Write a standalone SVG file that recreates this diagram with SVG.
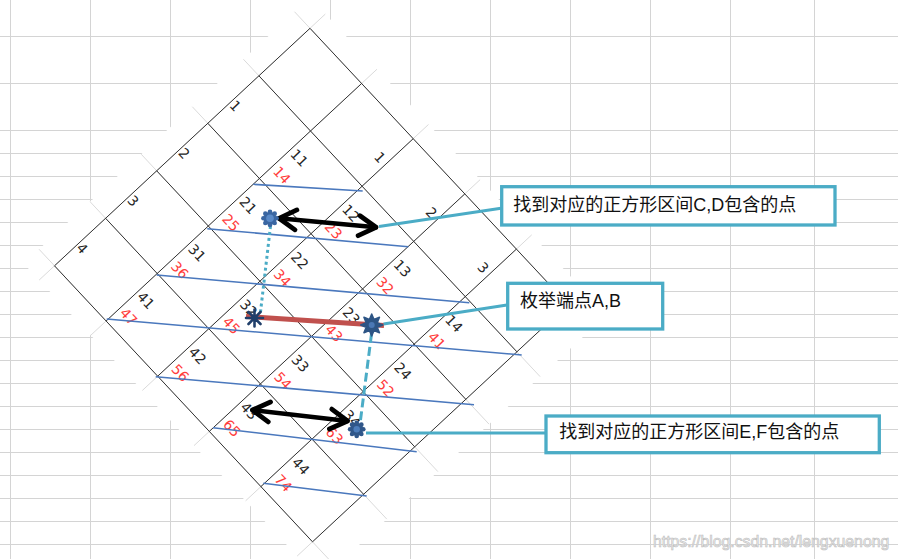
<svg xmlns="http://www.w3.org/2000/svg" xmlns:xlink="http://www.w3.org/1999/xlink" width="898" height="559" viewBox="0 0 898 559">
<style>
.bg{stroke:#d4d4d4;stroke-width:1;fill:none}
.ext{stroke:#dadada;stroke-width:1;fill:none}
.gl{stroke:#333;stroke-width:1;fill:none}
.blue{stroke:#4a78bd;stroke-width:1.6;fill:none}
.lb{font-family:"DejaVu Sans",sans-serif;font-size:14px;fill:#262626;text-anchor:middle;dominant-baseline:central}
.lr{fill:#ff3c3c}
.box{fill:#fff;stroke:#4bacc6;stroke-width:3.3}
.bt{font-family:"Liberation Sans","Noto Sans CJK SC",sans-serif;font-size:18px;fill:#111}
.cn{stroke:#4bacc6;stroke-width:3;fill:none}
.arr{stroke:#000;stroke-width:4.5;fill:none;stroke-linecap:round}
</style>
<defs>
<marker id="chev" viewBox="0 0 24 24" refX="20" refY="12" markerWidth="24" markerHeight="24" markerUnits="userSpaceOnUse" orient="auto-start-reverse" overflow="visible">
<path d="M3,2 L20,12 L3,22" fill="none" stroke="#000" stroke-width="4.8" stroke-linecap="round" stroke-linejoin="round"/>
</marker>
<g id="gear">
<circle r="6.5"/>
<circle cx="0" cy="-6.6" r="2.3"/><circle cx="4.67" cy="-4.67" r="2.3"/><circle cx="6.6" cy="0" r="2.3"/><circle cx="4.67" cy="4.67" r="2.3"/>
<circle cx="0" cy="6.6" r="2.3"/><circle cx="-4.67" cy="4.67" r="2.3"/><circle cx="-6.6" cy="0" r="2.3"/><circle cx="-4.67" cy="-4.67" r="2.3"/>
</g>
</defs>

<rect x="0" y="0" width="898" height="559" fill="#fff"/>
<g id="sheet-grid">
<path class="bg" d="M10.5,0V559M90.5,0V559M170.5,0V559M250.5,0V559M330.5,0V559M410.5,0V559M490.5,0V559M570.5,0V559M650.5,0V559M730.5,0V559M814.5,0V559"/>
<path class="bg" d="M0,36.5H898M0,83.5H898M0,130.5H898M0,153.5H898M0,176.5H898M0,199.5H898M0,222.5H898M0,245.5H898M0,268.5H898M0,291.5H898M0,314.5H898M0,337.5H898M0,360.5H898M0,383.5H898M0,406.5H898M0,429.5H898M0,452.5H898M0,475.5H898M0,498.5H898M0,521.5H898M0,544.5H898"/>
</g>

<g id="rotated-table">
<polygon points="309.85,-2.5 606.55,314.89 320.39,580.89 23.69,263.49" fill="#fff"/>
<path class="ext" d="M325.33,14.05L39.17,280.05M376.93,69.25L90.77,335.25M428.53,124.45L142.37,390.45M480.13,179.65L193.97,445.65M531.73,234.85L245.57,500.85M583.33,290.05L297.17,556.05M294.52,11.74L591.22,329.14M243.42,59.24L540.12,376.64M192.32,106.74L489.02,424.14M141.22,154.24L437.92,471.64M90.12,201.74L386.82,519.14M39.02,249.24L335.72,566.64"/>
<path class="gl" d="M310,28.3L54.5,265.8M361.6,83.5L106.1,321M413.2,138.7L157.7,376.2M464.8,193.9L209.3,431.4M516.4,249.1L260.9,486.6M568,304.3L312.5,541.8M310,28.3L568,304.3M258.9,75.8L516.9,351.8M207.8,123.3L465.8,399.3M156.7,170.8L414.7,446.8M105.6,218.3L363.6,494.3M54.5,265.8L312.5,541.8"/>
<g id="headers">
<text class="lb" transform="translate(379.9,157.3) rotate(47)">1</text>
<text class="lb" transform="translate(431.5,212.5) rotate(47)">2</text>
<text class="lb" transform="translate(483.1,267.7) rotate(47)">3</text>
<text class="lb" transform="translate(235.4,105.9) rotate(47)">1</text>
<text class="lb" transform="translate(184.3,153.4) rotate(47)">2</text>
<text class="lb" transform="translate(133.2,200.9) rotate(47)">3</text>
<text class="lb" transform="translate(82.1,248.4) rotate(47)">4</text>
</g>
<g id="cell-labels">
<text class="lb" transform="translate(299.3,157.9) rotate(47)">11</text>
<text class="lb" transform="translate(248.2,205.4) rotate(47)">21</text>
<text class="lb" transform="translate(197.1,252.9) rotate(47)">31</text>
<text class="lb" transform="translate(146.0,300.4) rotate(47)">41</text>
<text class="lb" transform="translate(350.9,213.1) rotate(47)">12</text>
<text class="lb" transform="translate(299.8,260.6) rotate(47)">22</text>
<text class="lb" transform="translate(248.7,308.1) rotate(47)">32</text>
<text class="lb" transform="translate(197.6,355.6) rotate(47)">42</text>
<text class="lb" transform="translate(402.5,268.3) rotate(47)">13</text>
<text class="lb" transform="translate(351.4,315.8) rotate(47)">23</text>
<text class="lb" transform="translate(300.3,363.3) rotate(47)">33</text>
<text class="lb" transform="translate(249.2,410.8) rotate(47)">43</text>
<text class="lb" transform="translate(454.1,323.5) rotate(47)">14</text>
<text class="lb" transform="translate(403.0,371.0) rotate(47)">24</text>
<text class="lb" transform="translate(351.9,418.5) rotate(47)">34</text>
<text class="lb" transform="translate(300.8,466.0) rotate(47)">44</text>
<text class="lb lr" transform="translate(282.0,175.1) rotate(47)">14</text>
<text class="lb lr" transform="translate(230.9,222.6) rotate(47)">25</text>
<text class="lb lr" transform="translate(179.8,270.1) rotate(47)">36</text>
<text class="lb lr" transform="translate(128.7,316.6) rotate(47)">47</text>
<text class="lb lr" transform="translate(333.6,230.3) rotate(47)">23</text>
<text class="lb lr" transform="translate(282.5,277.8) rotate(47)">34</text>
<text class="lb lr" transform="translate(231.4,325.3) rotate(47)">45</text>
<text class="lb lr" transform="translate(180.3,372.8) rotate(47)">56</text>
<text class="lb lr" transform="translate(385.2,285.5) rotate(47)">32</text>
<text class="lb lr" transform="translate(334.1,333.0) rotate(47)">43</text>
<text class="lb lr" transform="translate(283.0,380.5) rotate(47)">54</text>
<text class="lb lr" transform="translate(231.9,428.0) rotate(47)">65</text>
<text class="lb lr" transform="translate(436.8,340.7) rotate(47)">41</text>
<text class="lb lr" transform="translate(385.7,388.2) rotate(47)">52</text>
<text class="lb lr" transform="translate(334.6,435.7) rotate(47)">63</text>
<text class="lb lr" transform="translate(283.5,483.2) rotate(47)">74</text>
</g>
</g>

<g id="blue-lines">
<path class="blue" d="M253.3,184.3L362.7,191M207.3,228.7L408.3,246.7M156.7,275L469.3,302.7M106.7,319L521.7,355M155.7,376.7L474,404.7M213,427.7L416.7,451.7M263.3,483.3L366.7,496"/>
</g>

<g id="connectors">
<line x1="246" y1="316.5" x2="384" y2="325.5" stroke="#c0504d" stroke-width="5"/>
<line x1="270.5" y1="226" x2="260.5" y2="312" stroke="#4bacc6" stroke-width="3" stroke-dasharray="3 3"/>
<line x1="371.5" y1="334" x2="360.5" y2="420" stroke="#4bacc6" stroke-width="3" stroke-dasharray="9 4"/>
<line class="arr" x1="279" y1="218.3" x2="376" y2="227.3" marker-start="url(#chev)" marker-end="url(#chev)"/>
<line class="arr" x1="252.5" y1="410" x2="347.5" y2="421" marker-start="url(#chev)" marker-end="url(#chev)"/>
<line class="cn" x1="379" y1="226.5" x2="501" y2="208.3"/>
<line class="cn" x1="383.5" y1="324" x2="507" y2="305"/>
<line class="cn" x1="366" y1="433" x2="545" y2="433"/>
</g>

<g id="point-C">
<use xlink:href="#gear" transform="translate(270,218.3)" fill="#3a66a2"/>
<circle cx="270" cy="218.3" r="3.8" fill="#5a8ac8"/>
</g>
<g id="point-A">
<path d="M254.5,309.5V326.5M246,318H263M248.5,312L260.5,324M260.5,312L248.5,324" stroke="#203f6a" stroke-width="2.6" stroke-linecap="round"/>
</g>
<g id="point-B">
<polygon transform="translate(371.7,325)" fill="#2d5585" stroke="#2d5585" stroke-width="1.5" stroke-linejoin="round" points="0,-11 2.3,-5.54 7.78,-7.78 5.54,-2.3 11,0 5.54,2.3 7.78,7.78 2.3,5.54 0,11 -2.3,5.54 -7.78,7.78 -5.54,2.3 -11,0 -5.54,-2.3 -7.78,-7.78 -2.3,-5.54"/>
<circle cx="371.7" cy="325" r="3" fill="#4a78b5"/>
</g>
<g id="point-E">
<use xlink:href="#gear" transform="translate(356.7,429.3)" fill="#30578a"/>
<circle cx="356.7" cy="429.3" r="3.2" fill="#4c7dbb"/>
</g>

<g id="callout-CD">
<rect class="box" x="501.7" y="186.7" width="333.3" height="38.3"/>
<text class="bt" x="513.3" y="210.5">找到对应的正方形区间C,D包含的点</text>
</g>
<g id="callout-AB">
<rect class="box" x="507.7" y="283.3" width="155" height="45.7"/>
<text class="bt" x="520" y="307">枚举端点A,B</text>
</g>
<g id="callout-EF">
<rect class="box" x="546" y="416" width="333.3" height="36.7"/>
<text class="bt" x="559.3" y="438">找到对应的正方形区间E,F包含的点</text>
</g>

<text x="653" y="547" font-family="Liberation Sans, sans-serif" font-size="15.8" fill="#eeeeee" stroke="#bdbdbd" stroke-width="0.6">https://blog.csdn.net/lengxuenong</text>
</svg>
